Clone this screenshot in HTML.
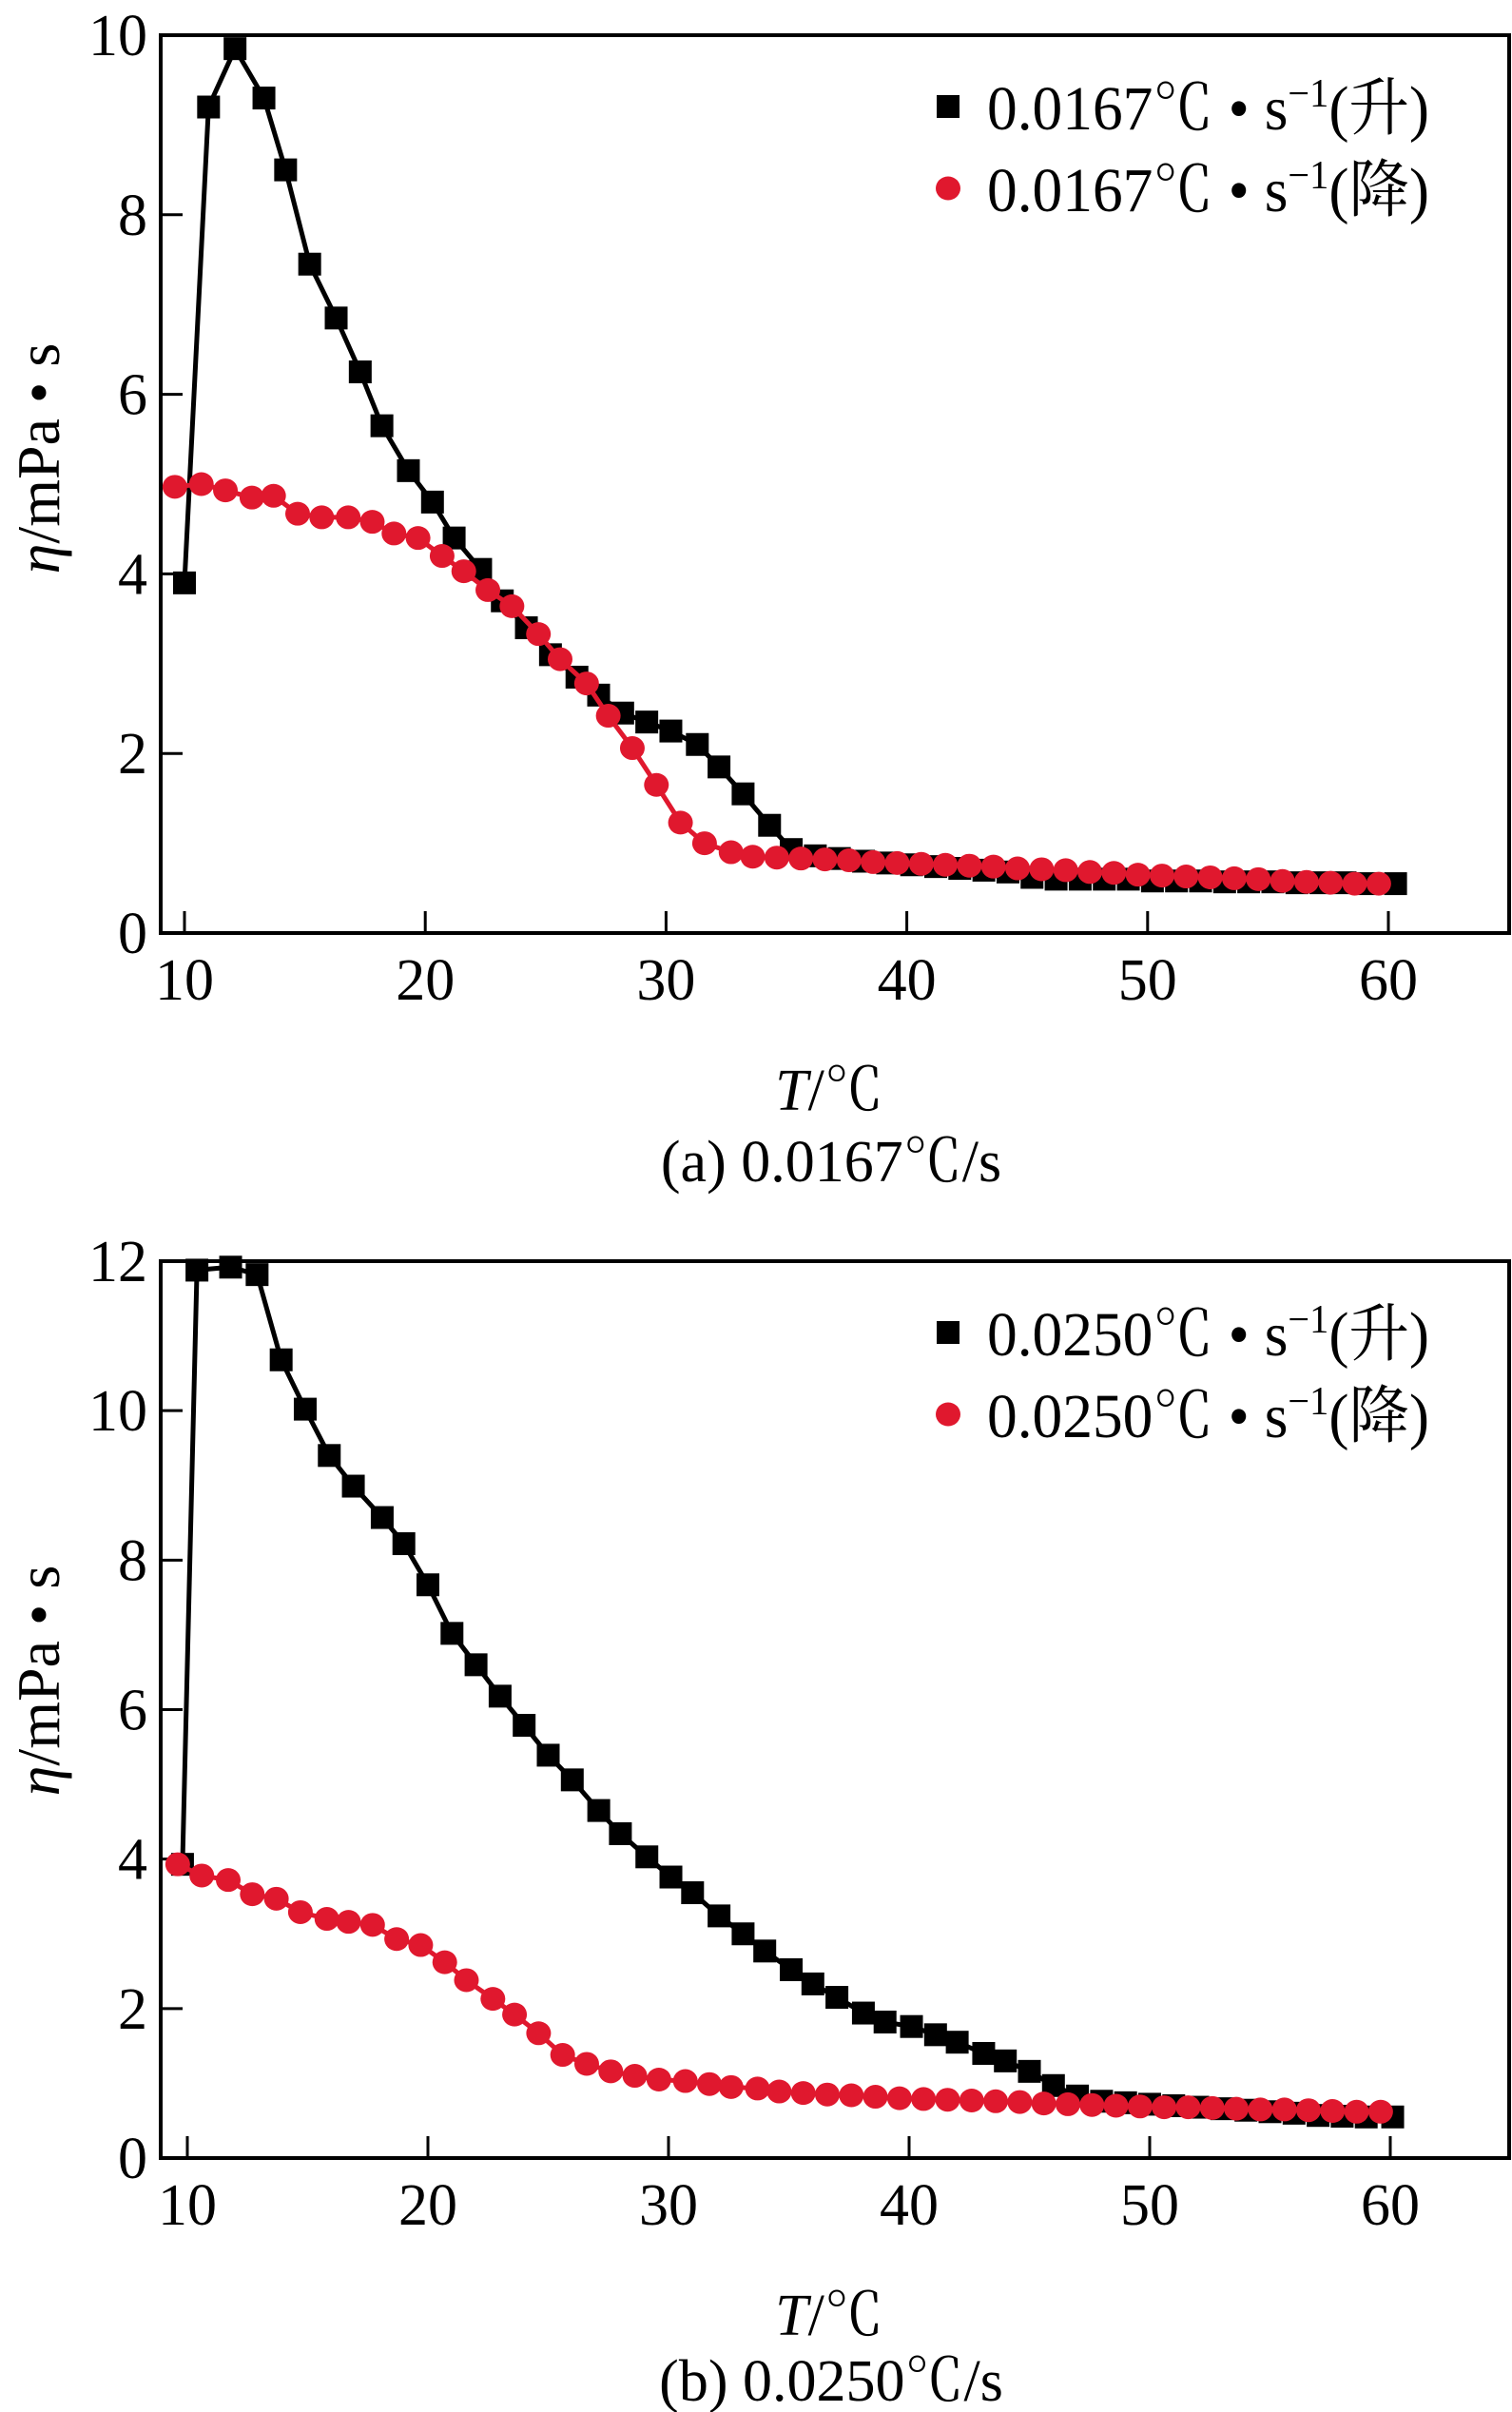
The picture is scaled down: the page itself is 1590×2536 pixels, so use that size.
<!DOCTYPE html>
<html><head><meta charset="utf-8"><style>
html,body{margin:0;padding:0;background:#fff;}
svg{display:block;font-family:"Liberation Serif","Noto Serif CJK SC",serif;}
text{font-family:"Liberation Serif","Noto Serif CJK SC",serif;fill:#000;}
</style></head><body>
<svg id="fig" width="1590" height="2536" viewBox="0 0 1590 2536" font-family="Liberation Serif, Noto Serif CJK SC, serif" xmlns="http://www.w3.org/2000/svg"></svg>
<script>
// ---- Chart (a) data ----
const aUpX = [10,11,12.1,13.3,14.2,15.2,16.3,17.3,18.2,19.3,20.3,21.2,22.3,23.2,24.2,25.2,26.3,27.2,28.2,29.2,30.2,31.3,32.2,33.2,34.3,35.2,36.2,37.2,38.2,39.2,40.2,41.2,42.2,43.2,44.2,45.2,46.2,47.2,48.2,49.2,50.2,51.2,52.2,53.2,54.2,55.2,56.2,57.2,58.2,59.2,60.3];
const aUpY = [3.9,9.2,9.85,9.3,8.5,7.45,6.85,6.25,5.65,5.15,4.8,4.4,4.05,3.7,3.4,3.1,2.85,2.65,2.45,2.35,2.25,2.1,1.85,1.55,1.2,0.93,0.86,0.83,0.8,0.78,0.76,0.74,0.72,0.7,0.68,0.62,0.6,0.6,0.6,0.6,0.58,0.58,0.58,0.57,0.57,0.57,0.56,0.56,0.56,0.55,0.55];
const aDnX = [9.6,10.7,11.7,12.8,13.7,14.7,15.7,16.8,17.8,18.7,19.7,20.7,21.6,22.6,23.6,24.7,25.6,26.7,27.6,28.6,29.6,30.6,31.6,32.7,33.6,34.6,35.6,36.6,37.6,38.6,39.6,40.6,41.6,42.6,43.6,44.6,45.6,46.6,47.6,48.6,49.6,50.6,51.6,52.6,53.6,54.6,55.6,56.6,57.6,58.6,59.6];
const aDnY = [4.97,5.0,4.93,4.85,4.87,4.67,4.63,4.63,4.58,4.45,4.4,4.2,4.03,3.82,3.64,3.33,3.05,2.78,2.42,2.06,1.65,1.23,1.0,0.9,0.85,0.84,0.83,0.82,0.81,0.79,0.78,0.77,0.76,0.75,0.74,0.72,0.71,0.7,0.68,0.67,0.65,0.64,0.63,0.62,0.61,0.6,0.58,0.57,0.56,0.55,0.55];
const aYTicks = [0,2,4,6,8,10];
// ---- Chart (b) data ----
const bUpX = [9.8,10.4,11.8,12.9,13.9,14.9,15.9,16.9,18.1,19.0,20.0,21.0,22.0,23.0,24.0,25.0,26.0,27.1,28.0,29.1,30.1,31.0,32.1,33.1,34.0,35.1,36.0,37.0,38.1,39.0,40.1,41.1,42.0,43.1,44.0,45.0,46.0,47.0,48.0,49.0,50.0,51.0,52.0,53.0,54.0,55.0,56.0,57.0,58.0,59.0,60.1];
const bUpY = [3.93,11.88,11.92,11.82,10.68,10.02,9.4,8.99,8.57,8.22,7.67,7.02,6.6,6.18,5.79,5.39,5.06,4.65,4.34,4.03,3.76,3.55,3.24,3.0,2.77,2.52,2.33,2.15,1.94,1.82,1.76,1.65,1.55,1.4,1.3,1.16,0.97,0.83,0.76,0.74,0.72,0.7,0.68,0.66,0.64,0.62,0.6,0.57,0.56,0.55,0.55];
const bDnX = [9.6,10.6,11.7,12.7,13.7,14.7,15.8,16.7,17.7,18.7,19.7,20.7,21.6,22.7,23.6,24.6,25.6,26.6,27.6,28.6,29.6,30.7,31.7,32.6,33.7,34.6,35.6,36.6,37.6,38.6,39.6,40.6,41.6,42.6,43.6,44.6,45.6,46.6,47.6,48.6,49.6,50.6,51.6,52.6,53.6,54.6,55.6,56.6,57.6,58.6,59.6];
const bDnY = [3.93,3.78,3.72,3.53,3.47,3.29,3.2,3.16,3.12,2.93,2.85,2.62,2.38,2.13,1.92,1.67,1.38,1.26,1.16,1.1,1.05,1.03,0.99,0.95,0.93,0.89,0.87,0.85,0.84,0.82,0.8,0.79,0.78,0.77,0.76,0.75,0.73,0.72,0.71,0.7,0.69,0.68,0.68,0.67,0.66,0.65,0.65,0.64,0.63,0.62,0.62];
const bYTicks = [0,2,4,6,8,10,12];
const xTicks = [10,20,30,40,50,60];

const NS = "http://www.w3.org/2000/svg";
const svg = document.getElementById('fig');
const RED = "#e0182e";
function mk(tag, attrs, parent){ const e=document.createElementNS(NS,tag); for(const k in attrs) e.setAttribute(k,attrs[k]); (parent||svg).appendChild(e); return e; }

function chart(cfg){
  const g = mk('g',{});
  
  
  const sx = v => cfg.x10 + (v-10)*(cfg.x60-cfg.x10)/50;
  const sy = v => cfg.bottom - v*(cfg.bottom-cfg.top)/cfg.ymax;
  const box = mk('rect',{x:cfg.left,y:cfg.top,width:cfg.right-cfg.left,height:cfg.bottom-cfg.top,fill:'none',stroke:'#000','stroke-width':4},g);
  
  
  cfg.yTicks.forEach(t=>{
    const y=sy(t);
    const tk = mk('line',{x1:cfg.left,x2:cfg.left+23,y1:y,y2:y,stroke:'#000','stroke-width':3},g);
    
    
    const tx = mk('text',{x:155,y:y+21,'text-anchor':'end','font-size':62},g);
    
    
    tx.textContent=t;
  });
  xTicks.forEach(t=>{
    const x=sx(t);
    const tk = mk('line',{x1:x,x2:x,y1:cfg.bottom,y2:cfg.bottom-23,stroke:'#000','stroke-width':3},g);
    
    
    const tx = mk('text',{x:x,y:cfg.bottom+70,'text-anchor':'middle','font-size':62},g);
    
    
    tx.textContent=t;
  });
  function series(xs,ys,color,shape,name){
    const sg = mk('g',{},g);
    
    
    const pts = xs.map((x,i)=>sx(x).toFixed(1)+','+sy(ys[i]).toFixed(1)).join(' ');
    const pl = mk('polyline',{points:pts,fill:'none',stroke:color,'stroke-width':5,'stroke-linejoin':'round'},sg);
    
    
    xs.forEach((x,i)=>{
      let m;
      if(shape==='sq') m = mk('rect',{x:sx(x)-12,y:sy(ys[i])-12,width:24,height:24,fill:color},sg);
      else m = mk('ellipse',{cx:sx(x),cy:sy(ys[i]),rx:13,ry:12.5,fill:color},sg);
      
      
    });
  }
  series(cfg.upX,cfg.upY,'#000','sq','heating-series');
  series(cfg.dnX,cfg.dnY,RED,'ci','cooling-series');
  const lg = mk('g',{},g);
  
  
  const r1 = cfg.top+75, r2 = cfg.top+161;
  const m1 = mk('rect',{x:985,y:r1-12,width:24,height:24,fill:'#000'},lg);
  
  
  const m2 = mk('ellipse',{cx:997,cy:r2,rx:13,ry:12.5,fill:RED},lg);
  
  
  [[r1,'升','legend-entry-heating'],[r2,'降','legend-entry-cooling']].forEach(([y,c,n])=>{
    const t = mk('text',{x:1038,y:y+24,'font-size':66,textLength:465,lengthAdjust:'spacingAndGlyphs'},lg);
    
    
    t.innerHTML = cfg.rate+'℃ • s<tspan dy="-24" font-size="42">−1</tspan><tspan dy="24">('+c+')</tspan>';
  });
  const yt = mk('text',{x:0,y:0,'font-size':64,'text-anchor':'middle',transform:`translate(62 ${cfg.ytitleY}) rotate(-90)`},g);
  
  
  yt.innerHTML = '<tspan font-style="italic">η</tspan>/mPa • s';
  const xt = mk('text',{x:872,y:cfg.bottom+186,'font-size':62,'text-anchor':'middle'},g);
  
  
  xt.innerHTML = '<tspan font-style="italic">T</tspan>/℃';
  const cp = mk('text',{x:874,y:cfg.bottom+cfg.capOff,'font-size':62,'text-anchor':'middle'},g);
  
  
  cp.textContent = cfg.caption;
}

chart({id:'chart-a',left:169,right:1587,top:37,bottom:981,x10:194,x60:1460,ymax:10,yTicks:aYTicks,
  upX:aUpX,upY:aUpY,dnX:aDnX,dnY:aDnY,rate:'0.0167',caption:'(a) 0.0167℃/s',ytitleY:482,capOff:261});
chart({id:'chart-b',left:169,right:1587,top:1326,bottom:2269,x10:197,x60:1462,ymax:12,yTicks:bYTicks,
  upX:bUpX,upY:bUpY,dnX:bDnX,dnY:bDnY,rate:'0.0250',caption:'(b) 0.0250℃/s',ytitleY:1767,capOff:255});
</script>
</body></html>
